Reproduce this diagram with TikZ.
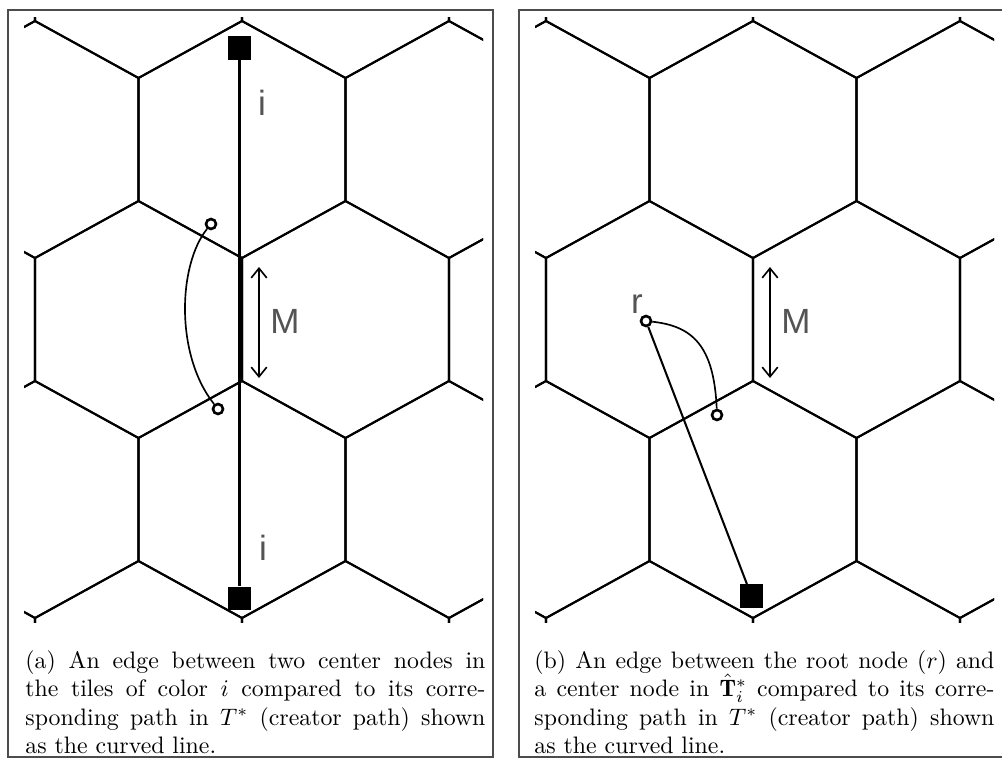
\documentclass[tikz,border=0pt]{standalone}
\usepackage{amsmath}
\usepackage{amssymb}
\usepackage{fontspec}
\newfontfamily\labelfont{Liberation Sans}
\usepackage{tikz}
\usetikzlibrary{positioning,arrows.meta}

\begin{document}
\begin{tikzpicture}[
    x=0.42pt, y=-0.42pt,
    hexline/.style={line width=0.85pt},
    panel/.style={draw=black!70, line width=0.55pt},
    ctrnode/.style={rectangle, fill=black, minimum size=9.7pt, inner sep=0pt},
    waypt/.style={draw, circle, fill=white, line width=1.1pt, minimum size=4.2pt, inner sep=0pt},
    lbl/.style={text=black!67, font=\labelfont\fontsize{14.7}{17}\selectfont, inner sep=0pt},
    capt/.style={anchor=base west, text width=193.2pt, align=justify, inner sep=0pt,
                 font=\fontsize{10}{12}\selectfont},
    tedge/.style={line width=0.85pt},
    creator/.style={line width=0.7pt},
    mspan/.style={{Straight Barb[length=4pt,width=6.5pt]}-{Straight Barb[length=4pt,width=6.5pt]}, line width=0.7pt}
]
\useasboundingbox (0,0) rectangle (1002,766);
\draw[panel] (8,10) rectangle (493,757);
\draw[panel] (519,10) rectangle (1004,757);

\foreach \sx in {0,511} {
  \begin{scope}[shift={(\sx,0)}]
    \clip (24,17) rectangle (483,622);
    \foreach \r in {0,...,4}
      \foreach \c in {-1,...,3} {
        \pgfmathsetmacro\cx{35+207*\c-103.5*mod(\r+1,2)}
        \pgfmathsetmacro\cy{-40.5+180*\r}
        \draw[hexline] (\cx,\cy-118.5) -- ++(103.5,57) -- ++(0,123) -- ++(-103.5,57)
          -- ++(-103.5,-57) -- ++(0,-123) -- cycle;
      }
  \end{scope}
}

% (a)
\node[ctrnode] (ta) at (239.5,48) {};
\node[ctrnode] (tb) at (239.5,598.5) {};
\draw[tedge] (ta) -- (tb);
\node[waypt] (pa) at (211,224) {};
\node[waypt] (pb) at (218,409) {};
\draw[creator] (pa) .. controls (178,265) and (175,355) .. (pb);
\coordinate (ma1) at (259,267);
\coordinate (ma2) at (259,378);
\draw[mspan] (ma1) -- (ma2);
\node[lbl] (ma) at (285,321) {M};
\node[lbl] (ia) at (262,103) {i};
\node[lbl] (ib) at (263,548) {i};
\node[capt] (capa) at (25,668) {\baselineskip=12pt
  (a) An edge between two center nodes in\linebreak
  the tiles of color $i$ compared to its corre-\linebreak
  sponding path in $T^*$ (creator path) shown\linebreak
  as the curved line.\par};

% (b)
\node[ctrnode] (tc) at (751.5,596) {};
\node[waypt] (root) at (646,321) {};
\node[waypt] (pc) at (717,415) {};
\draw[tedge] (root) -- (tc);
\draw[creator] (root) .. controls (692,326) and (714,345) .. (pc);
\coordinate (mb1) at (770,267);
\coordinate (mb2) at (770,378);
\draw[mspan] (mb1) -- (mb2);
\node[lbl] (mb) at (796,321) {M};
\node[lbl] (rl) at (637,304) {r};
\node[capt] (capb) at (534,668) {\baselineskip=12pt
  (b) An edge between the root node ($r$) and\linebreak
  a center node in $\hat{\mathbf{T}}^*_i$ compared to its corre-\linebreak
  sponding path in $T^*$ (creator path) shown\linebreak
  as the curved line.\par};
\end{tikzpicture}
\end{document}
